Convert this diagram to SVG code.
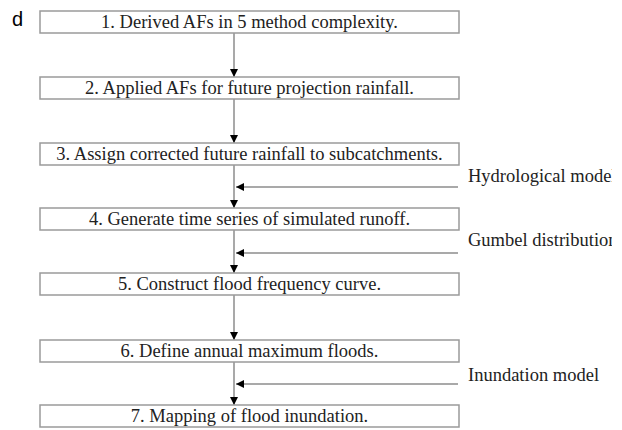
<svg xmlns="http://www.w3.org/2000/svg" width="622" height="430" viewBox="0 0 622 430">
<style>
.box{fill:#fff;stroke:#9a9a9a;stroke-width:1.5}
.t{font-family:"Liberation Serif","Times New Roman",serif;font-size:18.5px;fill:#222;text-anchor:middle}
.s{font-family:"Liberation Serif","Times New Roman",serif;font-size:18.5px;fill:#222}
.ln{stroke:#8c8c8c;stroke-width:1.5;fill:none}
</style>
<defs>
<marker id="ah" viewBox="0 0 10 10" refX="10" refY="5" markerWidth="8" markerHeight="8" markerUnits="userSpaceOnUse" orient="auto">
<path d="M0,0L10,5L0,10z" fill="#000"/>
</marker>
<clipPath id="rc"><rect x="0" y="0" width="612" height="430"/></clipPath>
<clipPath id="dc"><rect x="0" y="0" width="26" height="430"/></clipPath>
</defs>
<text x="12" y="26" clip-path="url(#dc)" style="font-family:'Liberation Sans',Arial,sans-serif;font-size:20px;fill:#000">d</text>
<g id="connectors">
<line class="ln" x1="234" y1="33" x2="234" y2="77" marker-end="url(#ah)"/>
<line class="ln" x1="234" y1="99" x2="234" y2="143" marker-end="url(#ah)"/>
<line class="ln" x1="234" y1="165" x2="234" y2="208" marker-end="url(#ah)"/>
<line class="ln" x1="234" y1="230" x2="234" y2="273" marker-end="url(#ah)"/>
<line class="ln" x1="234" y1="295" x2="234" y2="340" marker-end="url(#ah)"/>
<line class="ln" x1="234" y1="362" x2="234" y2="405" marker-end="url(#ah)"/>
<line class="ln" x1="458" y1="187" x2="236" y2="187" marker-end="url(#ah)"/>
<line class="ln" x1="458" y1="253" x2="236" y2="253" marker-end="url(#ah)"/>
<line class="ln" x1="458" y1="384" x2="236" y2="384" marker-end="url(#ah)"/>
</g>
<g id="n1"><rect class="box" x="40" y="11" width="419" height="22"/><text class="t" x="249.5" y="28">1. Derived AFs in 5 method complexity.</text></g>
<g id="n2"><rect class="box" x="40" y="77" width="419" height="22"/><text class="t" x="249.5" y="94">2. Applied AFs for future projection rainfall.</text></g>
<g id="n3"><rect class="box" x="40" y="143" width="419" height="22"/><text class="t" x="249.5" y="160">3. Assign corrected future rainfall to subcatchments.</text></g>
<g id="n4"><rect class="box" x="40" y="208" width="419" height="22"/><text class="t" x="249.5" y="225">4. Generate time series of simulated runoff.</text></g>
<g id="n5"><rect class="box" x="40" y="273" width="419" height="22"/><text class="t" x="249.5" y="290">5. Construct flood frequency curve.</text></g>
<g id="n6"><rect class="box" x="40" y="340" width="419" height="22"/><text class="t" x="249.5" y="357">6. Define annual maximum floods.</text></g>
<g id="n7"><rect class="box" x="40" y="405" width="419" height="22"/><text class="t" x="249.5" y="422">7. Mapping of flood inundation.</text></g>
<g id="side" clip-path="url(#rc)">
<text class="s" x="468" y="182">Hydrological model</text>
<text class="s" x="468" y="246">Gumbel distribution</text>
<text class="s" x="468" y="381">Inundation model</text>
</g>
</svg>
